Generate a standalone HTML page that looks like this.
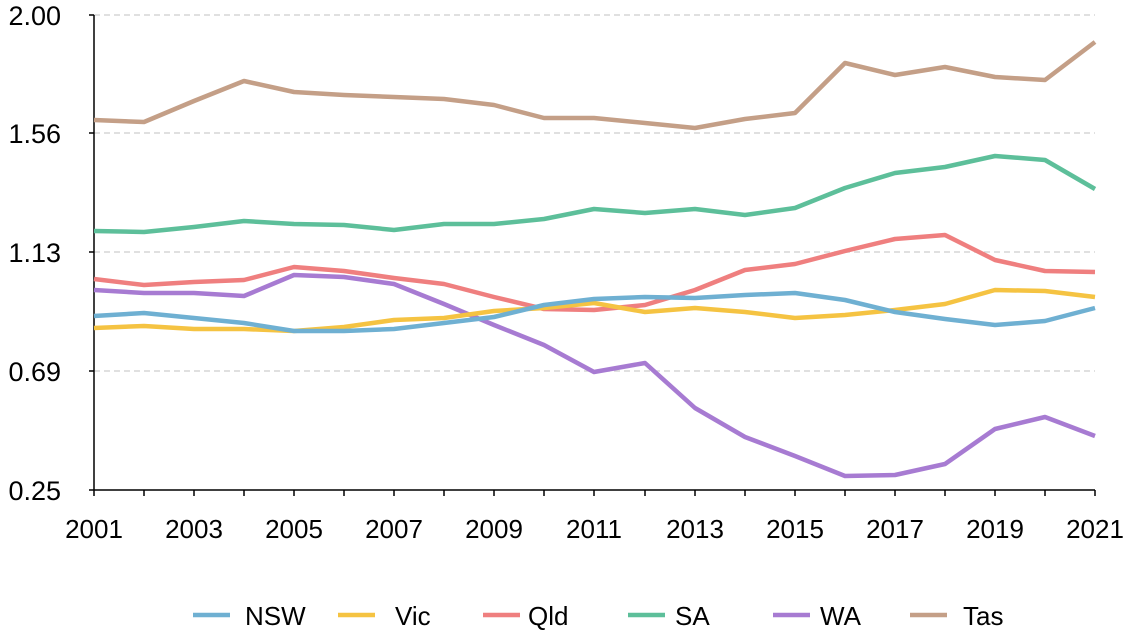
<!DOCTYPE html>
<html><head><meta charset="utf-8"><style>
body{margin:0;background:#fff}
svg{display:block;font-family:"Liberation Sans",sans-serif}
</style></head><body>
<svg width="1128" height="634" viewBox="0 0 1128 634">
<g stroke="#d6d6d6" stroke-width="1.5" stroke-dasharray="6,4">
<line x1="94" x2="1095" y1="15" y2="15"/>
<line x1="94" x2="1095" y1="133" y2="133"/>
<line x1="94" x2="1095" y1="252" y2="252"/>
<line x1="94" x2="1095" y1="371" y2="371"/>
</g>
<g stroke="#000" stroke-width="1.5">
<line x1="94" x2="94" y1="15" y2="490"/>
<line x1="94" x2="1095" y1="490" y2="490"/>
<line x1="89" x2="94" y1="15" y2="15"/><line x1="89" x2="94" y1="133" y2="133"/><line x1="89" x2="94" y1="252" y2="252"/><line x1="89" x2="94" y1="371" y2="371"/><line x1="89" x2="94" y1="490" y2="490"/>
<path d="M94 490v6M144 490v6M194 490v6M244 490v6M294 490v6M344 490v6M394 490v6M444 490v6M494 490v6M544 490v6M594 490v6M645 490v6M695 490v6M745 490v6M795 490v6M845 490v6M895 490v6M945 490v6M995 490v6M1045 490v6M1095 490v6"/>
</g>
<g font-size="27" fill="#000" text-anchor="end">
<text x="61" y="25">2.00</text><text x="61" y="143">1.56</text><text x="61" y="262">1.13</text><text x="61" y="381">0.69</text><text x="61" y="500">0.25</text>
</g>
<g font-size="26" fill="#000" text-anchor="middle">
<text x="94" y="538">2001</text><text x="194" y="538">2003</text><text x="294" y="538">2005</text><text x="394" y="538">2007</text><text x="494" y="538">2009</text><text x="594" y="538">2011</text><text x="695" y="538">2013</text><text x="795" y="538">2015</text><text x="895" y="538">2017</text><text x="995" y="538">2019</text><text x="1095" y="538">2021</text>
</g>
<g fill="none" stroke-width="4.5" stroke-linejoin="round">
<polyline stroke="#c49f87" points="94,120 144,122 194,101 244,81 294,92 344,95 394,97 444,99 494,105 544,118 594,118 645,123 695,128 745,119 795,113 845,63 895,75 945,67 995,77 1045,80 1095,42"/>
<polyline stroke="#5dbf9a" points="94,231 144,232 194,227 244,221 294,224 344,225 394,230 444,224 494,224 544,219 594,209 645,213 695,209 745,215 795,208 845,188 895,173 945,167 995,156 1045,160 1095,189"/>
<polyline stroke="#ef7f7f" points="94,279 144,285 194,282 244,280 294,267 344,271 394,278 444,284 494,297 544,309 594,310 645,305 695,290 745,270 795,264 845,251 895,239 945,235 995,260 1045,271 1095,272"/>
<polyline stroke="#a77bd2" points="94,290 144,293 194,293 244,296 294,275 344,277 394,284 444,304 494,325 544,345 594,372 645,363 695,408 745,437 795,456 845,476 895,475 945,464 995,429 1045,417 1095,436"/>
<polyline stroke="#f5c342" points="94,328 144,326 194,329 244,329 294,331 344,327 394,320 444,318 494,311 544,308 594,303 645,312 695,308 745,312 795,318 845,315 895,310 945,304 995,290 1045,291 1095,297"/>
<polyline stroke="#6fb0d2" points="94,316 144,313 194,318 244,323 294,331 344,331 394,329 444,323 494,317 544,305 594,299 645,297 695,298 745,295 795,293 845,300 895,312 945,319 995,325 1045,321 1095,308"/>
</g>
<g stroke-width="4.5">
<line x1="193" x2="230" y1="615" y2="615" stroke="#6fb0d2"/>
<line x1="338" x2="375" y1="615" y2="615" stroke="#f5c342"/>
<line x1="483" x2="520" y1="615" y2="615" stroke="#ef7f7f"/>
<line x1="628" x2="665" y1="615" y2="615" stroke="#5dbf9a"/>
<line x1="773" x2="810" y1="615" y2="615" stroke="#a77bd2"/>
<line x1="910" x2="947" y1="615" y2="615" stroke="#c49f87"/>
</g>
<g font-size="26" fill="#000">
<text x="245" y="625">NSW</text><text x="395" y="625">Vic</text><text x="528" y="625">Qld</text><text x="675" y="625">SA</text><text x="820" y="625">WA</text><text x="963" y="625">Tas</text>
</g>
</svg>
</body></html>
